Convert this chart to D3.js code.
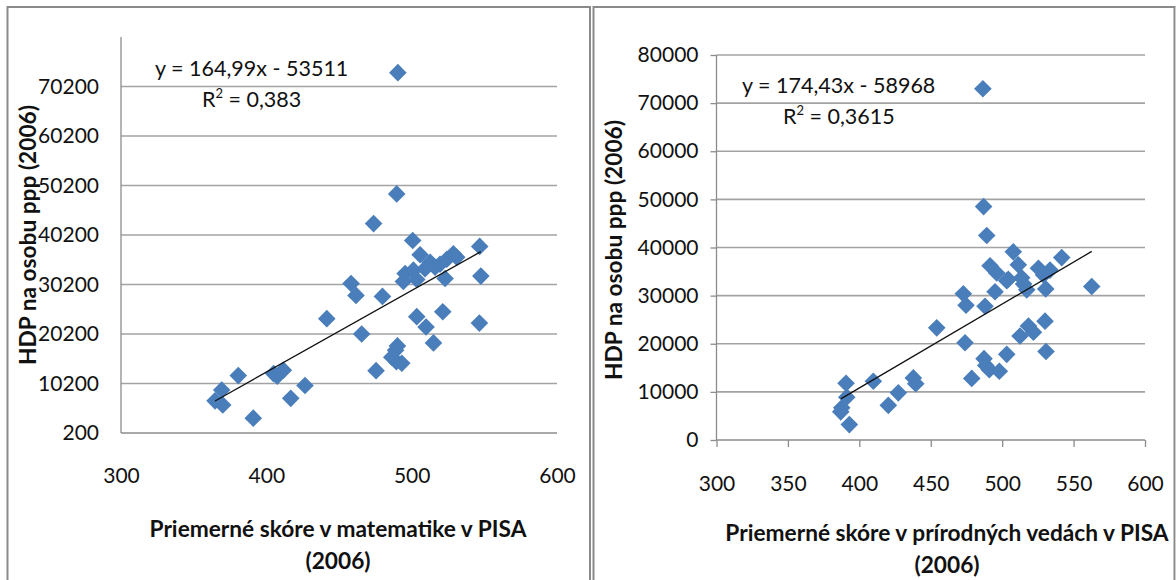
<!DOCTYPE html>
<html>
<head>
<meta charset="utf-8">
<script src="https://cdn.jsdelivr.net/npm/d3@7"></script>
<style>
  body { margin: 0; background: #fff; }
  svg { display: block; font-family: Lato, "Open Sans", sans-serif; }
</style>
</head>
<body>
<div id="chart"></div>
<script>
// HDP na osobu (ppp, 2006) - same countries on both charts
const gdp = [73000, 48500, 42500, 39100, 37900, 36200, 36400, 35700, 35300, 34700,
  34300, 33700, 33400, 33100, 32400, 31400, 31200, 31900, 30800, 30400,
  28000, 27800, 24700, 23700, 23300, 22400, 21600, 20200, 18400, 17800,
  16900, 15500, 14600, 14300, 12800, 12900, 12200, 11700, 11800, 9800,
  8900, 7200, 6700, 5850, 3200];
// PISA 2006 - matematika
const mathScore = [490.5, 489.7, 473.8, 500.7, 546.8, 505.8, 528.7, 531.0, 524.2, 512.7,
  519.5, 516.1, 509.2, 501.2, 495.5, 523.0, 503.5, 547.6, 494.3, 458.3,
  461.7, 479.9, 521.4, 503.5, 441.6, 546.6, 509.9, 465.6, 515.0, 490.2,
  488.9, 486.3, 489.5, 493.2, 475.5, 411.7, 405.0, 407.5, 380.7, 426.6,
  369.3, 416.8, 364.7, 370.0, 391.0];
// PISA 2006 - prirodne vedy
const sciScore = [486.5, 487.0, 489.2, 507.8, 541.7, 491.5, 511.3, 525.4, 533.5, 496.2,
  529.0, 513.7, 504.3, 503.2, 515.0, 530.5, 517.2, 562.7, 495.0, 472.8,
  474.7, 488.0, 530.0, 518.4, 454.2, 521.9, 512.5, 474.0, 530.7, 503.2,
  487.3, 488.5, 491.0, 498.0, 478.7, 437.8, 409.8, 439.5, 390.7, 427.3,
  391.2, 420.3, 387.7, 387.0, 393.0];

const mathTicksY = [200, 10200, 20200, 30200, 40200, 50200, 60200, 70200];
const mathTicksX = [300, 400, 500, 600];
const sciTicksY = [0, 10000, 20000, 30000, 40000, 50000, 60000, 70000, 80000];
const sciTicksX = [300, 350, 400, 450, 500, 550, 600];

const mathFit = [164.99, -53511];
const sciFit = [174.43, -58968];

const yTitle = "HDP na osobu ppp (2006)";

const width = 1176, height = 580;
const svg = d3.select("#chart").append("svg")
  .attr("width", width).attr("height", height);

// outer frames
svg.append("rect").attr("x", 7.5).attr("y", 7).attr("width", 582.5).attr("height", 620)
  .attr("fill", "none").attr("stroke", "#8a8a8a").attr("stroke-width", 2);
svg.append("rect").attr("x", 593.5).attr("y", 7).attr("width", 581).attr("height", 620)
  .attr("fill", "none").attr("stroke", "#8a8a8a").attr("stroke-width", 2);
svg.append("line").attr("x1", 1175.5).attr("x2", 1175.5).attr("y1", 8).attr("y2", 580)
  .attr("stroke", "#d0d0d0").attr("stroke-width", 1);

const tickFont = 21, eqFont = 21.5, titleFont = 22.7;

function drawPanel(p) {
  const x = d3.scaleLinear().domain(p.xDomain).range(p.xRange);
  const y = d3.scaleLinear().domain(p.yDomain).range(p.yRange);
  const g = svg.append("g");

  // gridlines
  g.selectAll("line.grid")
    .data(p.ticksY.slice(1))
    .enter().append("line")
    .attr("class", "grid")
    .attr("x1", p.xRange[0]).attr("x2", p.xRange[1])
    .attr("y1", d => y(d)).attr("y2", d => y(d))
    .attr("stroke", "#a3a3a3").attr("stroke-width", 1.6);

  // axes
  const yAxis = d3.axisLeft(y).tickValues(p.ticksY).tickSize(p.yTick).tickPadding(p.yPad)
    .tickFormat(d => d);
  const xAxis = d3.axisBottom(x).tickValues(p.ticksX).tickSize(p.xTick).tickPadding(p.xPad)
    .tickFormat(d => d);

  const ya = g.append("g").attr("transform", `translate(${p.xRange[0]},0)`).call(yAxis);
  const xa = g.append("g").attr("transform", `translate(0,${p.yRange[0]})`).call(xAxis);
  [ya, xa].forEach(a => {
    a.select(".domain").attr("stroke", "#8c8c8c").attr("stroke-width", 1.3);
    a.selectAll(".tick line").attr("stroke", "#8c8c8c").attr("stroke-width", 1.3);
    a.selectAll("text").attr("font-family", "Lato").attr("font-size", tickFont).attr("fill", "#111");
  });
  ya.select(".domain").attr("d", `M0,${p.yRange[1]}V${p.yRange[0]}`);
  xa.select(".domain").attr("d", `M${p.xRange[0]},0H${p.xRange[1]}`);

  // points
  const pts = p.xs.map((v, i) => ({ x: v, y: gdp[i] }));
  g.selectAll("path.pt")
    .data(pts)
    .enter().append("path")
    .attr("class", "pt")
    .attr("d", d3.symbol().type(d3.symbolSquare).size(155))
    .attr("transform", d => `translate(${x(d.x)},${y(d.y)}) rotate(45)`)
    .attr("fill", "#4a7ebb");

  // trendline
  const ext = d3.extent(p.xs);
  const fit = ext.map(v => ({ x: v, y: p.fit[0] * v + p.fit[1] }));
  g.append("path")
    .datum(fit)
    .attr("d", d3.line().x(d => x(d.x)).y(d => y(d.y)))
    .attr("stroke", "#111").attr("stroke-width", 1.3).attr("fill", "none");

  // equation
  const fmt = v => String(v).replace(".", ",");
  g.append("text").attr("x", p.eqX).attr("y", p.eqY).attr("font-size", eqFont).attr("fill", "#111")
    .text(`y = ${fmt(p.fit[0])}x - ${fmt(-p.fit[1])}`);
  const r = g.append("text").attr("x", p.r2X).attr("y", p.eqY + 31).attr("font-size", eqFont).attr("fill", "#111");
  r.append("tspan").text("R");
  r.append("tspan").attr("font-size", 13).attr("dy", -9).text("2");
  r.append("tspan").attr("dy", 9).text(` = ${p.r2}`);

  // axis titles
  g.append("text")
    .attr("transform", `translate(${p.yTitleX},${p.yTitleY}) rotate(-90)`)
    .attr("text-anchor", "middle").attr("font-weight", "bold").attr("font-size", titleFont)
    .attr("fill", "#111").text(yTitle);
  p.xTitle.forEach((t, i) => {
    g.append("text").attr("x", p.xTitleX).attr("y", p.xTitleY + i * 32)
      .attr("text-anchor", "middle").attr("font-weight", "bold").attr("font-size", titleFont)
      .attr("fill", "#111").text(t);
  });
}

drawPanel({
  xs: mathScore, fit: mathFit, r2: "0,383",
  xDomain: [300, 600], xRange: [121, 557],
  yDomain: [200, 80200], yRange: [433, 37],
  ticksY: mathTicksY, ticksX: mathTicksX,
  yTick: 0, yPad: 22, xTick: 0, xPad: 35,
  eqX: 155, eqY: 76, r2X: 202,
  yTitleX: 36, yTitleY: 235,
  xTitle: ["Priemerné skóre v matematike v PISA", "(2006)"], xTitleX: 338, xTitleY: 537
});

drawPanel({
  xs: sciScore, fit: sciFit, r2: "0,3615",
  xDomain: [300, 600], xRange: [716.5, 1145],
  yDomain: [0, 80000], yRange: [440, 55],
  ticksY: sciTicksY, ticksX: sciTicksX,
  yTick: 6, yPad: 12, xTick: 7, xPad: 29,
  eqX: 742, eqY: 92.5, r2X: 783,
  yTitleX: 622, yTitleY: 250,
  xTitle: ["Priemerné skóre v prírodných vedách v PISA", "(2006)"], xTitleX: 947, xTitleY: 541
});
</script>
</body>
</html>
